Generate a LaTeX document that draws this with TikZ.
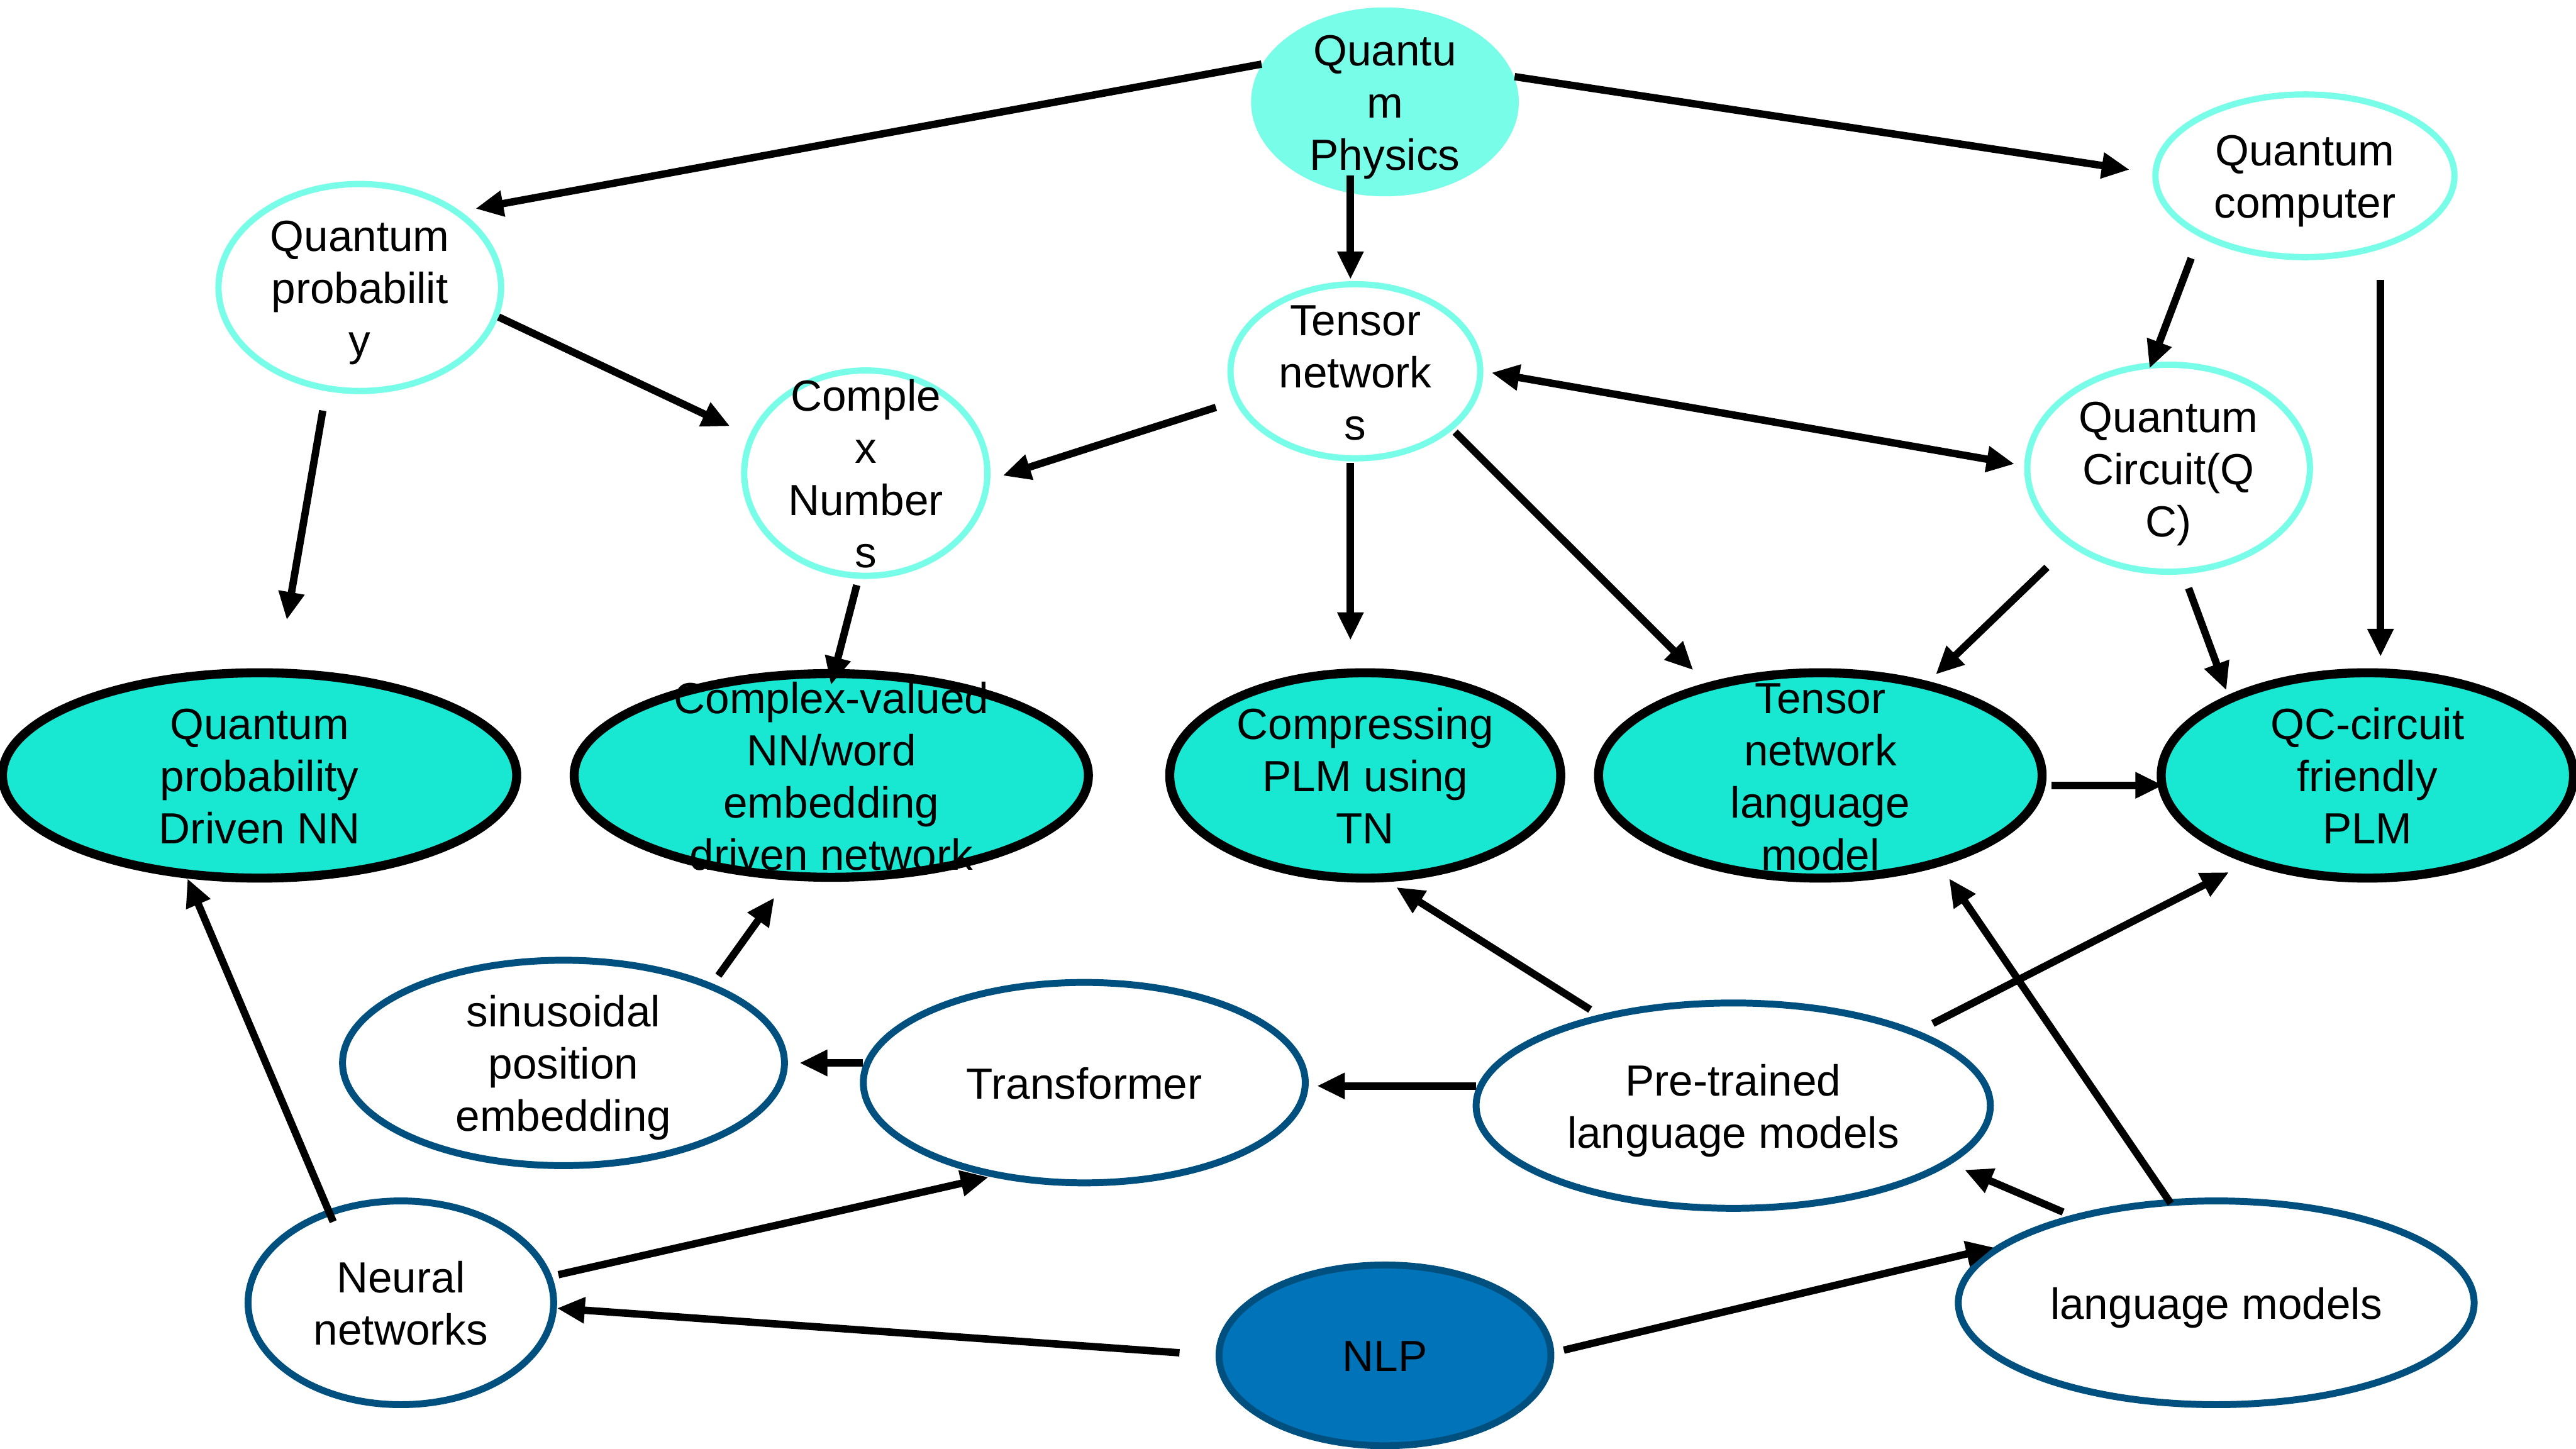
\documentclass[tikz,border=0pt]{standalone}
\usepackage{fontspec}
\setmainfont{Liberation Sans}
\usetikzlibrary{arrows.meta,shapes.geometric}
\newlength\px \setlength\px{0.02cm}
\definecolor{aqua}{HTML}{78FDE8}
\definecolor{tealf}{HTML}{18E8D2}
\definecolor{navy}{HTML}{00507F}
\definecolor{nlpblue}{HTML}{0073B9}
\begin{document}
\begin{tikzpicture}[x=0.02cm,y=-0.02cm,
 base/.style={ellipse, inner sep=0pt},
 txt/.style={font=\fontsize{15.1pt}{18.1pt}\selectfont, align=center, inner sep=0pt, text=black, yshift=-0.07cm},
 physn/.style={base, fill=aqua},
 lightn/.style={base, draw=aqua, line width=3.8\px, fill=white},
 goaln/.style={base, draw=black, line width=5.5\px, fill=tealf},
 nlpn/.style={base, draw=navy, line width=4.2\px, fill=white},
 rootn/.style={base, draw=navy, line width=4.2\px, fill=nlpblue},
 sz/.style 2 args={minimum width=#1\px, minimum height=#2\px},
 tx/.style={label={[txt]center:\strut#1\strut}},
 arr/.style={line width=0.09cm, -{Triangle[length=0.34cm,width=0.30cm]}},
 darr/.style={line width=0.09cm, {Triangle[length=0.34cm,width=0.30cm]}-{Triangle[length=0.34cm,width=0.30cm]}},
 sl/.style={shorten <=#1\px}, sr/.style={shorten >=#1\px}]
\fill[white] (0,0) rectangle (1568,882);
\useasboundingbox (0,0) rectangle (1568,882);

% physics side
\node[physn, sz={163}{115}, tx={Quantu\\m\\Physics}] (QP) at (843,62) {};
\node[lightn, sz={172}{126}, tx={Quantum\\probabilit\\y}] (QProb) at (219,175) {};
\node[lightn, sz={182}{99}, tx={Quantum\\computer}] (QC) at (1403,107) {};
\node[lightn, sz={152}{106}, tx={Tensor\\network\\s}] (TN) at (825,226) {};
\node[lightn, sz={148}{125}, tx={Comple\\x\\Number\\s}] (CN) at (527,288) {};
\node[lightn, sz={172}{126}, tx={Quantum\\Circuit(Q\\C)}] (QCirc) at (1320,285) {};

% goal nodes
\node[goaln, sz={313}{125}, tx={Quantum\\probability\\Driven NN}] (QPNN) at (158,472) {};
\node[goaln, sz={313}{124}, tx={Complex-valued\\NN/word\\embedding\\driven network}] (CVNN) at (506,472) {};
\node[goaln, sz={238}{125}, tx={Compressing\\PLM using\\TN}] (CPLM) at (831,472) {};
\node[goaln, sz={270}{125}, tx={Tensor\\network\\language\\model}] (TNLM) at (1108,472) {};
\node[goaln, sz={251}{125}, tx={QC-circuit\\friendly\\PLM}] (QCPLM) at (1441,472) {};

% NLP side
\node[nlpn, sz={269}{125}, tx={sinusoidal\\position\\embedding}] (SPE) at (343,647) {};
\node[nlpn, sz={269}{122}, tx={Transformer}] (TF) at (660,659) {};
\node[nlpn, sz={313}{125}, tx={Pre-trained\\language models}] (PTLM) at (1055,673) {};
\node[nlpn, sz={186}{124}, tx={Neural\\networks}] (NN) at (244,793) {};
\node[rootn, sz={202}{110}, tx={NLP}] (NLP) at (843,825) {};
\node[nlpn, sz={314}{124}, tx={language models}] (LM) at (1349,793) {};

% connectors
\draw[arr, sr=9] (QP.163) -- (QProb.37);
\draw[arr, sr=14] (QP.11) -- (QC.179);
\draw[arr] ([shift={(-21,-13)}]QP.south) -- ([shift={(-3,-1)}]TN.north);
\draw[arr, sr=13] (QProb.-12) -- (CN.162);
\draw[arr, sl=12, sr=30] (QProb.-108) -- (QPNN.80);
\draw[arr, sl=12, sr=8] (TN.194) -- (CN.-3);
\draw[darr, sl=5, sr=6] (TN.0) -- (QCirc.179);
\draw[arr] ([shift={(-3,1)}]TN.south) -- ([shift={(-9,-17)}]CPLM.north);
\draw[arr, sl=2, sr=11] (TN.-31) -- (TNLM.141);
\draw[arr, sl=14, sr=-4] (QC.-150) -- (QCirc.99);
\draw[arr] ([shift={(46,12)}]QC.south) -- ([shift={(8,-7)}]QCPLM.north);
\draw[arr, sl=4, sr=-10] (CN.-94) -- (CVNN.88);
\draw[arr, sl=19, sr=6] (QCirc.-142) -- (TNLM.41);
\draw[arr, sl=9, sr=3] (QCirc.-82) -- (QCPLM.150);
\draw[arr] ([shift={(3,6)}]TNLM.east) -- ([shift={(4,6)}]QCPLM.west);
\draw[arr, sl=6, sr=6] (PTLM.146) -- (CPLM.-78);
\draw[arr, sl=10, sr=12] (PTLM.22) -- (QCPLM.-144);
\draw[arr] ([shift={(2,-12)}]PTLM.west) -- ([shift={(5,2)}]TF.east);
\draw[arr] ([shift={(2,-12)}]TF.west) -- ([shift={(7,0)}]SPE.east);
\draw[arr, sl=6, sr=13] (SPE.28) -- (CVNN.-113);
\draw[arr, sl=-8] (NN.128) -- (QPNN.-125);
\draw[arr, sl=4, sr=1] (NN.10) -- (TF.-135);
\draw[arr, sl=22] (NLP.180) -- (NN.-2);
\draw[arr, sl=6] (NLP.1) -- (LM.166);
\draw[arr, sl=5, sr=9] (LM.149) -- (PTLM.-15);
\draw[arr, sl=-3, sr=9] (LM.115) -- (TNLM.-37);
\end{tikzpicture}
\end{document}
